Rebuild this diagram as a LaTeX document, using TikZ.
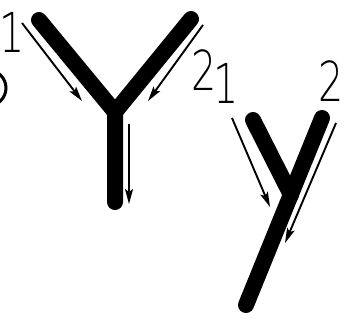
\documentclass[tikz,border=0pt]{standalone}
\usepackage{fontspec}
\newfontfamily\labfont{DejaVu Sans ExtraLight}
\usetikzlibrary{arrows.meta}
\begin{document}
\begin{tikzpicture}[x=1pt,y=-1pt,
  arm/.style={line width=16pt,line cap=round,line join=round},
  flow/.style={line width=1.9pt,-{Stealth[length=15pt,width=8pt,inset=3pt]}},
  lab/.style={inner sep=0pt,anchor=base,xscale=0.72,font=\labfont\fontsize{55}{58}\selectfont}]
\useasboundingbox (0,0) rectangle (352,324);
% partial glyph at left edge
\draw[line width=3pt] (-12,88) circle (18);
% big Y
\coordinate (YL) at (39,20);
\coordinate (YR) at (191,19);
\coordinate (YJ) at (115,112);
\coordinate (YB) at (115,202);
\draw[arm] (YL) -- (YJ) -- (YB);
\draw[arm] (YR) -- (YJ);
\coordinate (a1s) at (22,23);  \coordinate (a1e) at (82,101);
\coordinate (a2s) at (203,25); \coordinate (a2e) at (148,101);
\coordinate (a3s) at (129,124); \coordinate (a3e) at (129,204);
\draw[flow] (a1s) -- (a1e);
\draw[flow] (a2s) -- (a2e);
\draw[flow] (a3s) -- (a3e);
% small y
\coordinate (yL) at (253,120);
\coordinate (yR) at (322,118);
\coordinate (yJ) at (291,195);
\coordinate (yB) at (246,305);
\draw[arm] (yL) -- (yJ);
\draw[arm] (yR) -- (yB);
\coordinate (b1s) at (232,118); \coordinate (b1e) at (270,207);
\coordinate (b2s) at (336,123); \coordinate (b2e) at (285,243);
\draw[flow] (b1s) -- (b1e);
\draw[flow] (b2s) -- (b2e);
% labels
\node[lab] (l1) at (12,52) {1};
\node[lab] (l2) at (204,90) {2};
\node[lab] (l3) at (226,103) {1};
\node[lab] (l4) at (331,101) {2};
\end{tikzpicture}
\end{document}
